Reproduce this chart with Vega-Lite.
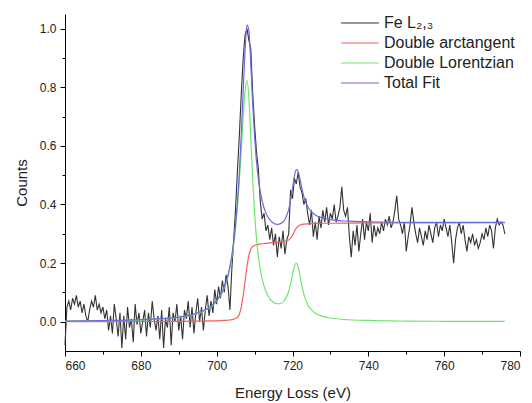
{
 "$schema": "https://vega.github.io/schema/vega-lite/v6.json",
 "width": 455, "height": 337,
 "autosize": "none",
 "padding": {"left": 65, "top": 14, "right": 12, "bottom": 52},
 "config": {
  "view": {"stroke": null},
  "axis": {"labelFont": "Liberation Sans", "titleFont": "Liberation Sans", "labelFontSize": 12, "titleFontSize": 15, "titleFontWeight": "normal", "labelColor": "#222", "titleColor": "#222", "domainColor": "#000", "tickColor": "#000", "grid": false}
 },
 "datasets": {
  "fe": [
   {"E":660.0,"v":-0.08},{"E":660.5,"v":0.05},{"E":661.0,"v":0.07},{"E":661.5,"v":0.04},{"E":662.0,"v":0.08},{"E":662.5,"v":0.06},{"E":663.0,"v":0.09},{"E":663.5,"v":0.05},{"E":664.0,"v":0.07},{"E":664.5,"v":0.03},
   {"E":665.0,"v":0.06},{"E":665.5,"v":0.02},{"E":666.0,"v":0.0},{"E":666.5,"v":0.04},{"E":667.0,"v":0.07},{"E":667.5,"v":0.05},{"E":668.0,"v":0.09},{"E":668.5,"v":0.04},{"E":669.0,"v":0.06},{"E":669.5,"v":0.03},
   {"E":670.0,"v":0.05},{"E":670.5,"v":0.01},{"E":671.0,"v":0.04},{"E":671.5,"v":-0.03},{"E":672.0,"v":0.02},{"E":672.5,"v":-0.04},{"E":673.0,"v":0.06},{"E":673.5,"v":0.01},{"E":674.0,"v":-0.05},{"E":674.5,"v":0.03},
   {"E":675.0,"v":-0.09},{"E":675.5,"v":0.02},{"E":676.0,"v":-0.06},{"E":676.5,"v":0.05},{"E":677.0,"v":-0.02},{"E":677.5,"v":0.01},{"E":678.0,"v":-0.07},{"E":678.5,"v":0.06},{"E":679.0,"v":-0.01},{"E":679.5,"v":0.03},
   {"E":680.0,"v":-0.04},{"E":680.5,"v":0.0},{"E":681.0,"v":0.04},{"E":681.5,"v":-0.05},{"E":682.0,"v":0.03},{"E":682.5,"v":-0.02},{"E":683.0,"v":0.07},{"E":683.5,"v":0.01},{"E":684.0,"v":-0.03},{"E":684.5,"v":0.02},
   {"E":685.0,"v":-0.06},{"E":685.5,"v":0.04},{"E":686.0,"v":-0.09},{"E":686.5,"v":0.01},{"E":687.0,"v":-0.02},{"E":687.5,"v":0.05},{"E":688.0,"v":-0.08},{"E":688.5,"v":0.03},{"E":689.0,"v":0.0},{"E":689.5,"v":0.06},
   {"E":690.0,"v":-0.03},{"E":690.5,"v":0.02},{"E":691.0,"v":-0.06},{"E":691.5,"v":0.04},{"E":692.0,"v":0.01},{"E":692.5,"v":0.07},{"E":693.0,"v":-0.02},{"E":693.5,"v":0.05},{"E":694.0,"v":-0.04},{"E":694.5,"v":0.03},
   {"E":695.0,"v":0.08},{"E":695.5,"v":0.0},{"E":696.0,"v":0.05},{"E":696.5,"v":-0.03},{"E":697.0,"v":0.04},{"E":697.5,"v":0.09},{"E":698.0,"v":0.02},{"E":698.5,"v":0.07},{"E":699.0,"v":0.03},{"E":699.5,"v":0.11},
   {"E":700.0,"v":0.06},{"E":700.5,"v":0.12},{"E":701.0,"v":0.08},{"E":701.5,"v":0.14},{"E":702.0,"v":0.1},{"E":702.5,"v":0.16},{"E":703.0,"v":0.12},{"E":703.5,"v":0.04},{"E":704.0,"v":0.18},{"E":704.5,"v":0.28},
   {"E":705.0,"v":0.39},{"E":705.5,"v":0.52},{"E":706.0,"v":0.64},{"E":706.5,"v":0.78},{"E":707.0,"v":0.9},{"E":707.5,"v":0.98},{"E":708.0,"v":1.0},{"E":708.5,"v":0.96},{"E":709.0,"v":0.93},{"E":709.5,"v":0.78},
   {"E":710.0,"v":0.67},{"E":710.5,"v":0.58},{"E":711.0,"v":0.52},{"E":711.5,"v":0.41},{"E":712.0,"v":0.35},{"E":712.5,"v":0.37},{"E":713.0,"v":0.31},{"E":713.5,"v":0.33},{"E":714.0,"v":0.28},{"E":714.5,"v":0.32},
   {"E":715.0,"v":0.26},{"E":715.5,"v":0.3},{"E":716.0,"v":0.22},{"E":716.5,"v":0.29},{"E":717.0,"v":0.25},{"E":717.5,"v":0.31},{"E":718.0,"v":0.23},{"E":718.5,"v":0.28},{"E":719.0,"v":0.3},{"E":719.5,"v":0.45},
   {"E":720.0,"v":0.42},{"E":720.5,"v":0.49},{"E":721.0,"v":0.47},{"E":721.5,"v":0.51},{"E":722.0,"v":0.46},{"E":722.5,"v":0.44},{"E":723.0,"v":0.4},{"E":723.5,"v":0.42},{"E":724.0,"v":0.37},{"E":724.5,"v":0.33},
   {"E":725.0,"v":0.38},{"E":725.5,"v":0.29},{"E":726.0,"v":0.34},{"E":726.5,"v":0.28},{"E":727.0,"v":0.36},{"E":727.5,"v":0.32},{"E":728.0,"v":0.38},{"E":728.5,"v":0.34},{"E":729.0,"v":0.39},{"E":729.5,"v":0.33},
   {"E":730.0,"v":0.37},{"E":730.5,"v":0.35},{"E":731.0,"v":0.4},{"E":731.5,"v":0.34},{"E":732.0,"v":0.36},{"E":732.5,"v":0.39},{"E":733.0,"v":0.46},{"E":733.5,"v":0.38},{"E":734.0,"v":0.36},{"E":734.5,"v":0.39},
   {"E":735.0,"v":0.29},{"E":735.5,"v":0.22},{"E":736.0,"v":0.31},{"E":736.5,"v":0.26},{"E":737.0,"v":0.33},{"E":737.5,"v":0.24},{"E":738.0,"v":0.3},{"E":738.5,"v":0.35},{"E":739.0,"v":0.28},{"E":739.5,"v":0.34},
   {"E":740.0,"v":0.31},{"E":740.5,"v":0.37},{"E":741.0,"v":0.27},{"E":741.5,"v":0.33},{"E":742.0,"v":0.29},{"E":742.5,"v":0.32},{"E":743.0,"v":0.3},{"E":743.5,"v":0.34},{"E":744.0,"v":0.31},{"E":744.5,"v":0.35},
   {"E":745.0,"v":0.33},{"E":745.5,"v":0.36},{"E":746.0,"v":0.32},{"E":746.5,"v":0.34},{"E":747.0,"v":0.38},{"E":747.5,"v":0.43},{"E":748.0,"v":0.35},{"E":748.5,"v":0.33},{"E":749.0,"v":0.3},{"E":749.5,"v":0.34},
   {"E":750.0,"v":0.24},{"E":750.5,"v":0.29},{"E":751.0,"v":0.33},{"E":751.5,"v":0.39},{"E":752.0,"v":0.34},{"E":752.5,"v":0.3},{"E":753.0,"v":0.27},{"E":753.5,"v":0.32},{"E":754.0,"v":0.29},{"E":754.5,"v":0.26},
   {"E":755.0,"v":0.31},{"E":755.5,"v":0.28},{"E":756.0,"v":0.33},{"E":756.5,"v":0.3},{"E":757.0,"v":0.27},{"E":757.5,"v":0.32},{"E":758.0,"v":0.34},{"E":758.5,"v":0.29},{"E":759.0,"v":0.33},{"E":759.5,"v":0.31},
   {"E":760.0,"v":0.35},{"E":760.5,"v":0.32},{"E":761.0,"v":0.29},{"E":761.5,"v":0.33},{"E":762.0,"v":0.27},{"E":762.5,"v":0.2},{"E":763.0,"v":0.28},{"E":763.5,"v":0.32},{"E":764.0,"v":0.34},{"E":764.5,"v":0.3},
   {"E":765.0,"v":0.33},{"E":765.5,"v":0.28},{"E":766.0,"v":0.24},{"E":766.5,"v":0.29},{"E":767.0,"v":0.27},{"E":767.5,"v":0.3},{"E":768.0,"v":0.26},{"E":768.5,"v":0.28},{"E":769.0,"v":0.25},{"E":769.5,"v":0.27},
   {"E":770.0,"v":0.3},{"E":770.5,"v":0.28},{"E":771.0,"v":0.32},{"E":771.5,"v":0.29},{"E":772.0,"v":0.33},{"E":772.5,"v":0.31},{"E":773.0,"v":0.25},{"E":773.5,"v":0.32},{"E":774.0,"v":0.35},{"E":774.5,"v":0.33},
   {"E":775.0,"v":0.34},{"E":775.5,"v":0.33},{"E":776.0,"v":0.3}
  ],
  "red": [
   {"E":660,"v":0.0},{"E":670,"v":0.0003},{"E":680,"v":0.0007},{"E":690,"v":0.001},{"E":695,"v":0.002},{"E":698,"v":0.0025},{"E":700,"v":0.003},{"E":702,"v":0.0045},{"E":703,"v":0.005},{"E":704,"v":0.007},
   {"E":705,"v":0.011},{"E":705.5,"v":0.014},{"E":706,"v":0.025},{"E":706.5,"v":0.05},{"E":707,"v":0.09},{"E":707.5,"v":0.14},{"E":708,"v":0.19},{"E":708.5,"v":0.228},{"E":709,"v":0.248},{"E":709.5,"v":0.257},
   {"E":710,"v":0.26},{"E":710.5,"v":0.262},{"E":711,"v":0.264},{"E":712,"v":0.266},{"E":713,"v":0.2675},{"E":714,"v":0.269},{"E":715,"v":0.27},{"E":716,"v":0.271},{"E":717,"v":0.2725},{"E":718,"v":0.274},
   {"E":719,"v":0.279},{"E":719.5,"v":0.285},{"E":720,"v":0.295},{"E":720.5,"v":0.308},{"E":721,"v":0.319},{"E":721.5,"v":0.326},{"E":722,"v":0.33},{"E":722.5,"v":0.332},{"E":723,"v":0.333},{"E":724,"v":0.334},
   {"E":725,"v":0.335},{"E":726,"v":0.3355},{"E":728,"v":0.336},{"E":730,"v":0.336},{"E":735,"v":0.3365},{"E":740,"v":0.337},{"E":750,"v":0.337},{"E":760,"v":0.3375},{"E":776,"v":0.338}
  ],
  "green": [
   {"E":660,"v":0.0022},{"E":670,"v":0.0035},{"E":680,"v":0.0063},{"E":690,"v":0.0149},{"E":695,"v":0.0279},{"E":698,"v":0.0457},{"E":700,"v":0.069},{"E":702,"v":0.115},{"E":703,"v":0.155},{"E":704,"v":0.219},
   {"E":705,"v":0.322},{"E":706,"v":0.486},{"E":706.5,"v":0.592},{"E":707,"v":0.701},{"E":707.5,"v":0.788},{"E":708,"v":0.823},{"E":708.5,"v":0.765},{"E":709,"v":0.631},{"E":709.5,"v":0.488},{"E":710,"v":0.372},
   {"E":710.5,"v":0.285},{"E":711,"v":0.223},{"E":712,"v":0.145},{"E":713,"v":0.103},{"E":714,"v":0.079},{"E":715,"v":0.066},{"E":716,"v":0.061},{"E":717,"v":0.063},{"E":718,"v":0.075},{"E":719,"v":0.104},
   {"E":719.5,"v":0.129},{"E":720,"v":0.16},{"E":720.5,"v":0.189},{"E":721,"v":0.2},{"E":721.5,"v":0.186},{"E":722,"v":0.155},{"E":722.5,"v":0.121},{"E":723,"v":0.094},{"E":724,"v":0.059},{"E":725,"v":0.04},
   {"E":726,"v":0.029},{"E":728,"v":0.018},{"E":730,"v":0.0126},{"E":735,"v":0.0066},{"E":740,"v":0.0042},{"E":750,"v":0.0022},{"E":760,"v":0.0014},{"E":776,"v":0.0008}
  ],
  "blue": [
   {"E":660,"v":0.0022},{"E":670,"v":0.0038},{"E":680,"v":0.007},{"E":690,"v":0.0159},{"E":695,"v":0.0299},{"E":698,"v":0.0482},{"E":700,"v":0.072},{"E":702,"v":0.1195},{"E":703,"v":0.16},{"E":704,"v":0.226},
   {"E":705,"v":0.333},{"E":706,"v":0.511},{"E":706.5,"v":0.642},{"E":707,"v":0.791},{"E":707.5,"v":0.928},{"E":708,"v":1.013},{"E":708.5,"v":0.993},{"E":709,"v":0.879},{"E":709.5,"v":0.745},{"E":710,"v":0.632},
   {"E":710.5,"v":0.547},{"E":711,"v":0.487},{"E":712,"v":0.411},{"E":713,"v":0.3705},{"E":714,"v":0.348},{"E":715,"v":0.336},{"E":716,"v":0.332},{"E":717,"v":0.3355},{"E":718,"v":0.349},{"E":719,"v":0.383},
   {"E":719.5,"v":0.414},{"E":720,"v":0.455},{"E":720.5,"v":0.497},{"E":721,"v":0.519},{"E":721.5,"v":0.512},{"E":722,"v":0.485},{"E":722.5,"v":0.453},{"E":723,"v":0.427},{"E":724,"v":0.393},{"E":725,"v":0.375},
   {"E":726,"v":0.3645},{"E":728,"v":0.354},{"E":730,"v":0.3486},{"E":735,"v":0.343},{"E":740,"v":0.341},{"E":750,"v":0.339},{"E":760,"v":0.339},{"E":776,"v":0.339}
  ]
 },
 "layer": [
  {
   "data": {"name": "fe"},
   "mark": {"type": "line", "strokeWidth": 1.1, "interpolate": "linear"},
   "encoding": {
    "x": {"field": "E", "type": "quantitative", "scale": {"domain": [660, 780], "nice": false, "zero": false},
          "axis": {"orient": "bottom", "title": "Energy Loss (eV)", "values": [660, 680, 700, 720, 740, 760, 780], "format": "d", "tickSize": 5, "labelPadding": 4, "titlePadding": 14}},
    "y": {"field": "v", "type": "quantitative", "scale": {"domain": [-0.1, 1.05], "nice": false, "zero": false},
          "axis": {"orient": "left", "title": "Counts", "values": [0, 0.2, 0.4, 0.6, 0.8, 1.0], "format": ".1f", "tickSize": 5, "labelPadding": 4, "titlePadding": 10}},
    "color": {"datum": "Fe L₂,₃", "type": "nominal",
              "scale": {"domain": ["Fe L₂,₃", "Double arctangent", "Double Lorentzian", "Total Fit"], "range": ["#333333", "#f06060", "#6ee66e", "#6a6ae0"]},
              "legend": {"orient": "none", "legendX": 275, "legendY": -1, "title": null, "symbolType": "stroke", "symbolSize": 1444, "symbolStrokeWidth": 1.2, "clipHeight": 20, "labelFontSize": 16, "labelFont": "Liberation Sans", "labelColor": "#222", "rowPadding": 0, "labelOffset": 4}}
   }
  },
  {
   "data": {"name": "red"},
   "mark": {"type": "line", "strokeWidth": 1.2},
   "encoding": {
    "x": {"field": "E", "type": "quantitative", "axis": null},
    "y": {"field": "v", "type": "quantitative", "axis": null},
    "color": {"datum": "Double arctangent", "type": "nominal"}
   }
  },
  {
   "data": {"name": "green"},
   "mark": {"type": "line", "strokeWidth": 1.2, "interpolate": "monotone"},
   "encoding": {
    "x": {"field": "E", "type": "quantitative", "axis": null},
    "y": {"field": "v", "type": "quantitative", "axis": null},
    "color": {"datum": "Double Lorentzian", "type": "nominal"}
   }
  },
  {
   "data": {"name": "blue"},
   "mark": {"type": "line", "strokeWidth": 1.2, "interpolate": "monotone"},
   "encoding": {
    "x": {"field": "E", "type": "quantitative", "axis": null},
    "y": {"field": "v", "type": "quantitative", "axis": null},
    "color": {"datum": "Total Fit", "type": "nominal"}
   }
  },
  {
   "data": {"name": "red"},
   "mark": {"type": "line", "strokeOpacity": 0},
   "encoding": {
    "x": {"field": "E", "type": "quantitative",
          "axis": {"orient": "bottom", "title": null, "values": [670, 690, 710, 730, 750, 770], "labels": false, "domain": false, "tickSize": 3}},
    "y": {"field": "v", "type": "quantitative",
          "axis": {"orient": "left", "title": null, "values": [0.1, 0.3, 0.5, 0.7, 0.9], "labels": false, "domain": false, "tickSize": 3}}
   }
  }
 ],
 "resolve": {"axis": {"x": "independent", "y": "independent"}}
}
